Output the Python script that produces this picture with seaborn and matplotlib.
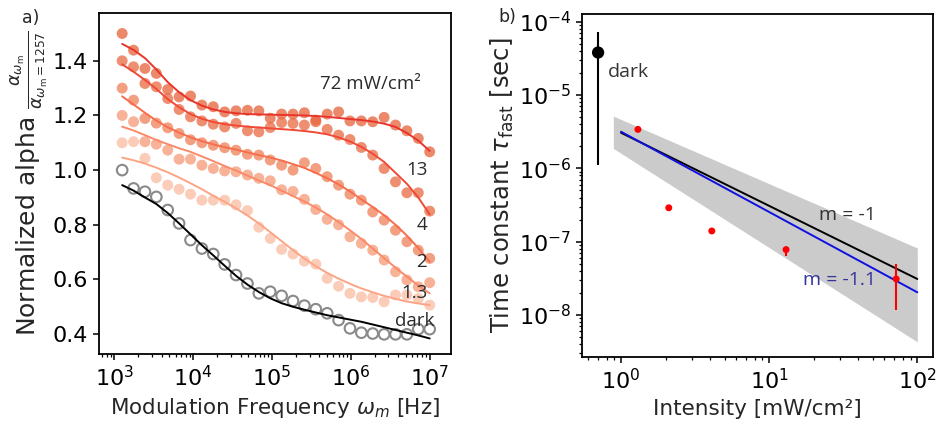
import numpy as np
import pandas as pd
import matplotlib
matplotlib.use("Agg")
import matplotlib.pyplot as plt
import seaborn as sns
from matplotlib.ticker import LogLocator, NullFormatter

# ---------------- data: panel a ----------------
freq = [1257, 1753, 2445, 3410, 4756, 6631, 9250, 12900, 17990, 25090, 35000,
        48810, 68070, 94940, 132400, 184700, 257500, 359200, 500900, 698600,
        974100, 1359000, 1895000, 2642000, 3685000, 5140000, 7168000, 10000000]

pts_72 = [1.50, 1.439, 1.372, 1.354, 1.295, 1.268, 1.271, 1.238, 1.232, 1.213, 1.217,
          1.219, 1.217, 1.190, 1.205, 1.205, 1.210, 1.183, 1.205, 1.213, 1.180,
          1.180, 1.177, 1.193, 1.165, 1.144, 1.116, 1.067]
pts_13 = [1.40, 1.378, 1.317, 1.305, 1.262, 1.222, 1.195, 1.180, 1.168, 1.158, 1.171,
          1.144, 1.140, 1.156, 1.174, 1.171, 1.165, 1.177, 1.149, 1.128, 1.112,
          1.083, 1.055, 1.006, 0.957, 0.917, 0.917, 0.850]
pts_4 = [1.30, 1.256, 1.189, 1.172, 1.155, 1.134, 1.111, 1.100, 1.091, 1.082, 1.073,
         1.058, 1.055, 1.037, 1.018, 1.000, 1.027, 1.006, 0.976, 0.945, 0.912,
         0.890, 0.847, 0.817, 0.780, 0.738, 0.707, 0.677]
pts_2 = [1.20, 1.177, 1.104, 1.095, 1.073, 1.040, 1.040, 1.018, 1.006, 0.997, 0.994,
         0.982, 0.970, 0.961, 0.928, 0.922, 0.893, 0.856, 0.820, 0.800, 0.756,
         0.732, 0.707, 0.671, 0.628, 0.598, 0.573, 0.588]
pts_1p3 = [1.10, 1.104, 1.043, 0.972, 0.945, 0.930, 0.912, 0.890, 0.890, 0.890, 0.873,
           0.852, 0.791, 0.750, 0.710, 0.693, 0.667, 0.656, 0.604, 0.575, 0.549,
           0.536, 0.534, 0.518, 0.543, 0.543, 0.530, 0.506]
pts_dark = [1.0, 0.933, 0.921, 0.902, 0.854, 0.805, 0.744, 0.713, 0.693, 0.655, 0.616,
            0.585, 0.549, 0.555, 0.540, 0.521, 0.504, 0.491, 0.476, 0.451, 0.421,
            0.405, 0.402, 0.399, 0.399, 0.399, 0.418, 0.418]

fit_72 = [1.462, 1.44, 1.41, 1.368, 1.322, 1.285, 1.256, 1.236, 1.222, 1.213, 1.208,
          1.205, 1.204, 1.203, 1.202, 1.201, 1.200, 1.198, 1.195, 1.191, 1.187,
          1.183, 1.178, 1.170, 1.158, 1.136, 1.108, 1.070]
fit_13 = [1.387, 1.36, 1.33, 1.297, 1.26, 1.23, 1.205, 1.188, 1.176, 1.168, 1.163,
          1.159, 1.156, 1.153, 1.150, 1.147, 1.143, 1.138, 1.131, 1.12, 1.105,
          1.085, 1.06, 1.03, 0.99, 0.95, 0.90, 0.838]
fit_4 = [1.27, 1.24, 1.21, 1.181, 1.157, 1.137, 1.12, 1.106, 1.094, 1.084, 1.075,
         1.065, 1.055, 1.046, 1.035, 1.022, 1.008, 0.99, 0.97, 0.948, 0.922,
         0.893, 0.865, 0.835, 0.8, 0.76, 0.715, 0.665]
fit_2 = [1.159, 1.145, 1.128, 1.11, 1.095, 1.08, 1.067, 1.05, 1.033, 1.015, 0.998,
         0.98, 0.962, 0.945, 0.925, 0.905, 0.885, 0.863, 0.838, 0.81, 0.78,
         0.748, 0.713, 0.678, 0.643, 0.61, 0.578, 0.549]
fit_1p3 = [1.046, 1.036, 1.024, 1.009, 0.992, 0.973, 0.952, 0.93, 0.906, 0.884, 0.86,
           0.834, 0.805, 0.773, 0.74, 0.707, 0.676, 0.648, 0.624, 0.603, 0.584,
           0.567, 0.553, 0.54, 0.529, 0.519, 0.512, 0.506]
fit_dark = [0.945, 0.925, 0.90, 0.876, 0.843, 0.805, 0.765, 0.725, 0.688, 0.650, 0.613,
            0.581, 0.554, 0.531, 0.513, 0.50, 0.489, 0.479, 0.469, 0.461, 0.453,
            0.445, 0.435, 0.425, 0.415, 0.405, 0.395, 0.384]

series_labels = ["72 mW/cm\u00b2", "13", "4", "2", "1.3", "dark"]
label_x = [1.75e6, 6.8e6, 7.9e6, 7.9e6, 6.4e6, 6.5e6]
label_y = [1.315, 1.0, 0.799, 0.665, 0.549, 0.449]

# ---------------- data: panel b ----------------
intensity = [1.3, 2.1, 4.1, 13.0, 72.0]
tau_fast = [3.4e-6, 2.9e-7, 1.4e-7, 7.8e-8, 3.1e-8]
tau_lo = [3.2e-6, 2.75e-7, 1.33e-7, 6.4e-8, 1.16e-8]
tau_hi = [3.6e-6, 3.05e-7, 1.47e-7, 8.5e-8, 4.94e-8]
dark_int = [0.70]
dark_tau = [3.8e-5]
dark_lo = [1.1e-6]
dark_hi = [7.3e-5]

line_x = [1.0, 100.0]
line_m1 = [3.06e-6, 3.1e-8]
line_m11 = [3.16e-6, 2.04e-8]
band_x = [0.887, 100.0]
band_lo = [1.87e-6, 4.3e-9]
band_hi = [5.16e-6, 8.2e-8]

# ---------------- style ----------------
sns.set_theme(style="ticks")
plt.rcParams.update({
    "font.family": ["DejaVu Sans"],
    "axes.linewidth": 1.3,
    "axes.edgecolor": "black",
    "xtick.color": "black", "ytick.color": "black",
    "xtick.labelsize": 16, "ytick.labelsize": 16,
    "xtick.major.size": 4.5, "ytick.major.size": 4.5,
    "xtick.minor.size": 2.5, "ytick.minor.size": 2.5,
    "xtick.major.width": 1.1, "ytick.major.width": 1.1,
    "xtick.minor.width": 0.9, "ytick.minor.width": 0.9,
    "axes.labelsize": 15.5,
    "mathtext.fontset": "dejavusans",
})

fig = plt.figure(figsize=(9.37, 4.22), dpi=100)
ax1 = fig.add_axes([0.1057, 0.1611, 0.3756, 0.8081])
ax2 = fig.add_axes([0.6215, 0.1547, 0.3746, 0.8114])

# ---------------- panel a ----------------
line_cols = ["#e8352b", "#f04a36", "#f76d4d", "#fa8a68", "#fca486"]
pt_cols = ["#e7623a", "#e96a42", "#ef8058", "#f59876", "#fabba0"]
pts_all = [pts_72, pts_13, pts_4, pts_2, pts_1p3]
fits_all = [fit_72, fit_13, fit_4, fit_2, fit_1p3]

for pts, col in zip(pts_all, pt_cols):
    df = pd.DataFrame({"f": freq, "a": pts})
    sns.scatterplot(data=df, x="f", y="a", ax=ax1, color=col, s=62,
                    alpha=0.75, edgecolor="none", zorder=2)
df = pd.DataFrame({"f": freq, "a": pts_dark})
sns.scatterplot(data=df, x="f", y="a", ax=ax1, s=58, facecolor="none",
                edgecolor="#8a8a8a", linewidth=1.5, zorder=2)

for fit, col in zip(fits_all, line_cols):
    df = pd.DataFrame({"f": freq, "a": fit})
    sns.lineplot(data=df, x="f", y="a", ax=ax1, color=col, linewidth=1.4,
                 zorder=3, estimator=None)
df = pd.DataFrame({"f": freq, "a": fit_dark})
sns.lineplot(data=df, x="f", y="a", ax=ax1, color="black", linewidth=1.4,
             zorder=3, estimator=None)

ax1.set_xscale("log")
ax1.set_xlim(10 ** 2.806, 10 ** 7.27)
ax1.set_ylim(0.327, 1.575)
ax1.set_yticks([0.4, 0.6, 0.8, 1.0, 1.2, 1.4])
ax1.xaxis.set_major_locator(LogLocator(base=10, numticks=10))
ax1.xaxis.set_minor_locator(LogLocator(base=10, subs=np.arange(2, 10), numticks=20))
ax1.xaxis.set_minor_formatter(NullFormatter())
ax1.set_xlabel(r"Modulation Frequency $\omega_m$ [Hz]", fontsize=15.5)
ax1.set_ylabel(r"Normalized alpha $\frac{\alpha_{\omega_{\rm m}}}{\alpha_{\omega_{\rm m}=1257}}$",
               fontsize=18, labelpad=2)
for lab, x, y in zip(series_labels, label_x, label_y):
    ax1.text(x, y, lab, ha="center", va="center", fontsize=13.5,
             color="#2b2b2b", family=["Open Sans", "DejaVu Sans"], zorder=5)
ax1.tick_params(which="both", direction="out")

fig.text(0.033, 0.957, "a)", fontsize=12.5, ha="center", va="center")
fig.text(0.541, 0.960, "b)", fontsize=12.5, ha="center", va="center")

# ---------------- panel b ----------------
ax2.fill_between(band_x, band_lo, band_hi, color="#c6c6c6", alpha=0.9,
                 linewidth=0, zorder=1)
df = pd.DataFrame({"x": line_x, "y": line_m1})
sns.lineplot(data=df, x="x", y="y", ax=ax2, color="black", linewidth=1.4, zorder=3)
df = pd.DataFrame({"x": line_x, "y": line_m11})
sns.lineplot(data=df, x="x", y="y", ax=ax2, color="#1010e0", linewidth=1.4, zorder=3)

tau_arr = np.array(tau_fast)
ax2.errorbar(intensity, tau_fast,
             yerr=[tau_arr - np.array(tau_lo), np.array(tau_hi) - tau_arr],
             fmt="none", ecolor="red", elinewidth=1.5, zorder=4)
dt = np.array(dark_tau)
ax2.errorbar(dark_int, dark_tau,
             yerr=[dt - np.array(dark_lo), np.array(dark_hi) - dt],
             fmt="none", ecolor="black", elinewidth=1.5, zorder=4)
df = pd.DataFrame({"x": intensity, "y": tau_fast})
sns.scatterplot(data=df, x="x", y="y", ax=ax2, color="red", s=25,
                edgecolor="none", zorder=5)
df = pd.DataFrame({"x": dark_int, "y": dark_tau})
sns.scatterplot(data=df, x="x", y="y", ax=ax2, color="black", s=78,
                edgecolor="none", zorder=5)

ax2.set_xscale("log")
ax2.set_yscale("log")
ax2.set_xlim(0.548, 128.3)
ax2.set_ylim(10 ** -8.569, 10 ** -3.899)
ax2.xaxis.set_major_locator(LogLocator(base=10, numticks=10))
ax2.xaxis.set_minor_locator(LogLocator(base=10, subs=np.arange(2, 10), numticks=20))
ax2.xaxis.set_minor_formatter(NullFormatter())
ax2.yaxis.set_major_locator(LogLocator(base=10, numticks=10))
ax2.yaxis.set_minor_locator(LogLocator(base=10, subs=np.arange(2, 10), numticks=20))
ax2.yaxis.set_minor_formatter(NullFormatter())
ax2.set_xlabel("Intensity [mW/cm\u00b2]", fontsize=15.5)
ax2.set_ylabel(r"Time constant $\tau_{\rm fast}$ [sec]", fontsize=17.5, labelpad=2)
ax2.tick_params(which="both", direction="out")

ax2.text(1.12, 2.08e-5, "dark", fontsize=14, color="#333333", ha="center",
         va="center", family=["Open Sans", "DejaVu Sans"])
ax2.text(34, 2.3e-7, "m = -1", fontsize=14, color="#333333", ha="center",
         va="center", family=["Open Sans", "DejaVu Sans"])
ax2.text(30, 3.0e-8, "m = -1.1", fontsize=14, color="#34349a", ha="center",
         va="center", family=["Open Sans", "DejaVu Sans"])

for ax in (ax1, ax2):
    for sp in ax.spines.values():
        sp.set_visible(True)
        sp.set_linewidth(1.3)
        sp.set_color("black")

fig.savefig("out.png", dpi=100)
